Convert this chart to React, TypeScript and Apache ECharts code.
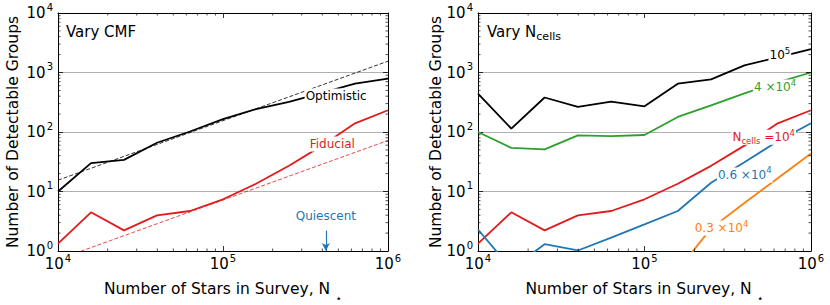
import React, { useEffect, useRef } from 'react';
import * as echarts from 'echarts';

// ---------- data ----------
const nStars = [1e4, 1.585e4, 2.512e4, 3.981e4, 6.31e4, 1e5, 1.585e5, 2.512e5, 3.981e5, 6.31e5, 1e6];
const optimistic = [10, 30, 34, 66, 102, 165, 243, 322, 455, 650, 787];
const fiducial = [1.33, 4.47, 2.22, 3.98, 4.7, 7.4, 13.5, 27, 59, 140, 232];
const fitX = [1e4, 1e6];
const optimisticFit = [15.5, 1550];
const fiducialFit = [0.72, 72];
const quiescentX = 4.2e5;
const quiescentArrowY = [2.2, 1.0];

const cells1e5 = [440, 114, 380, 264, 324, 270, 650, 767, 1320, 1800, 2460];
const cells4e4 = [100, 54, 51, 88, 85, 89, 179, 281, 447, 680, 1000];
const cells1e4 = fiducial;
const cells6e3 = [2.3, 0.5, 1.3, 1.02, 1.68, 2.8, 4.7, 14, 31, 70, 140];
const cells3e3 = [null, null, null, null, null, null, 0.48, 2.4, 6.4, 16.7, 43.6];

// annotation anchor points (data coordinates)
const leftLabels = [
  { text: 'Optimistic', at: [4.85e5, 403], color: '#000000' },
  { text: 'Fiducial', at: [4.6e5, 63], color: '#e31a1c' },
  { text: 'Quiescent', at: [4.2e5, 3.9], color: '#1f77b4' },
];
const rightLabels = [
  { text: '{b|10}{sup|5}', at: [6.5e5, 1960], color: '#000000' },
  { text: '{b|4 ×10}{sup|4}', at: [6.08e5, 570], color: '#2ca02c' },
  { text: '{b|N}{sub|cells}{b| =10}{sup|4}', at: [5.2e5, 82], color: '#e31a1c' },
  { text: '{b|0.6 ×10}{sup|4}', at: [4.0e5, 19], color: '#1f77b4' },
  { text: '{b|0.3 ×10}{sup|4}', at: [2.9e5, 2.43], color: '#ff7f0e' },
];

const minorMult = [2, 3, 4, 5, 6, 7, 8, 9];
const xDecades = [1e4, 1e5];
const yDecades = [1, 10, 100, 1000];

// ---------- styling ----------
const FONT = 'DejaVu Sans';
const C = { black: '#000000', red: '#e31a1c', green: '#2ca02c', blue: '#1f77b4', orange: '#ff7f0e' };

const tickRich = {
  b: { fontFamily: FONT, fontSize: 15, lineHeight: 20, verticalAlign: 'middle', color: '#000' },
  s: { fontFamily: FONT, fontSize: 10, lineHeight: 20, padding: [0, 0, 12, 1], verticalAlign: 'middle', color: '#000' },
};
const powLabel = (v: number) => `{b|10}{s|${Math.round(Math.log10(v))}}`;

const labelRich = (color: string) => ({
  b: { fontFamily: FONT, fontSize: 12, lineHeight: 15, verticalAlign: 'middle', color },
  sup: { fontFamily: FONT, fontSize: 8.5, lineHeight: 15, padding: [0, 0, 9, 0], verticalAlign: 'middle', color },
  sub: { fontFamily: FONT, fontSize: 8.5, lineHeight: 15, padding: [8, 0, 0, 0], verticalAlign: 'middle', color },
});

const xName = '{n|Number of Stars in Survey, N}{st|⋆}';
const xNameStyle = {
  fontFamily: FONT,
  fontSize: 15.5,
  color: '#000',
  rich: {
    n: { fontFamily: FONT, fontSize: 15.5, lineHeight: 18, verticalAlign: 'middle', color: '#000' },
    st: { fontFamily: FONT, fontSize: 11, lineHeight: 18, padding: [18, 0, 0, 5], verticalAlign: 'middle', color: '#000' },
  },
};

function xAxes(gridIndex: number) {
  const common = {
    type: 'log',
    logBase: 10,
    min: 1e4,
    max: 1e6,
    gridIndex,
    axisLine: { show: true, onZero: false, lineStyle: { color: '#000', width: 1 } },
    axisTick: { show: true, inside: true, length: 5, lineStyle: { color: '#000', width: 0.8 } },
    splitLine: { show: false },
  };
  return [
    {
      ...common,
      position: 'bottom',
      axisLabel: { show: true, formatter: powLabel, rich: tickRich, margin: 3, interval: 0, showMinLabel: true, showMaxLabel: true },
      name: xName,
      nameLocation: 'middle',
      nameGap: 29,
      nameMoveOverlap: false,
      nameTextStyle: xNameStyle,
    },
    { ...common, position: 'top', axisLabel: { show: false }, z: 3 },
  ];
}

function yAxes(gridIndex: number, nameGap: number) {
  const common = {
    type: 'log',
    logBase: 10,
    min: 1,
    max: 1e4,
    gridIndex,
    axisLine: { show: true, onZero: false, lineStyle: { color: '#000', width: 1 } },
    axisTick: { show: true, inside: true, length: 5, lineStyle: { color: '#000', width: 0.8 } },
  };
  return [
    {
      ...common,
      position: 'left',
      axisLabel: { show: true, formatter: powLabel, rich: tickRich, margin: 5, interval: 0, showMinLabel: true, showMaxLabel: true },
      splitLine: { show: true, showMinLine: false, showMaxLine: false, lineStyle: { color: '#b0b0b0', width: 1 } },
      name: 'Number of Detectable Groups',
      nameLocation: 'middle',
      nameGap,
      nameMoveOverlap: false,
      nameTextStyle: { fontFamily: FONT, fontSize: 15.5, color: '#000' },
    },
    { ...common, position: 'right', axisLabel: { show: false }, splitLine: { show: false }, z: 3 },
  ];
}

function minorTicks(xi: number, yi: number, dir: 'x' | 'y') {
  const vals: number[] = [];
  (dir === 'x' ? xDecades : yDecades).forEach((d) => minorMult.forEach((m) => vals.push(d * m)));
  return {
    type: 'custom',
    xAxisIndex: xi,
    yAxisIndex: yi,
    silent: true,
    z: 6,
    data: vals.map((v) => (dir === 'x' ? [v, 10] : [1e5, v])),
    renderItem: (params: any, api: any) => {
      const cs = params.coordSys;
      const p = api.coord([api.value(0), api.value(1)]);
      const L = 2.5;
      const style = { stroke: '#000', lineWidth: 0.7 };
      if (dir === 'x') {
        return {
          type: 'group',
          children: [
            { type: 'line', shape: { x1: p[0], y1: cs.y + cs.height, x2: p[0], y2: cs.y + cs.height - L }, style },
            { type: 'line', shape: { x1: p[0], y1: cs.y, x2: p[0], y2: cs.y + L }, style },
          ],
        };
      }
      return {
        type: 'group',
        children: [
          { type: 'line', shape: { x1: cs.x, y1: p[1], x2: cs.x + L, y2: p[1] }, style },
          { type: 'line', shape: { x1: cs.x + cs.width, y1: p[1], x2: cs.x + cs.width - L, y2: p[1] }, style },
        ],
      };
    },
  };
}

const pairs = (xs: number[], ys: (number | null)[]) => xs.map((x, i) => [x, ys[i]]);

function lineSeries(name: string, xi: number, yi: number, ys: (number | null)[], color: string, extra: any = {}) {
  return {
    name,
    type: 'line',
    xAxisIndex: xi,
    yAxisIndex: yi,
    data: pairs(nStars, ys),
    symbol: 'none',
    lineStyle: { color, width: 1.8 },
    itemStyle: { color },
    z: 2,
    ...extra,
  };
}

function labelPoint(l: { text: string; at: number[]; color: string }) {
  return {
    coord: l.at,
    label: {
      show: true,
      position: 'inside',
      formatter: l.text.startsWith('{') ? l.text : `{b|${l.text}}`,
      rich: labelRich(l.color),
      backgroundColor: '#ffffff',
      padding: [0, 1, 0, 1],
    },
  };
}

function labelSeries(xi: number, yi: number, labels: any[]) {
  return {
    type: 'line',
    xAxisIndex: xi,
    yAxisIndex: yi,
    data: [],
    symbol: 'none',
    silent: true,
    markPoint: {
      symbol: 'circle',
      symbolSize: 1,
      silent: true,
      z: 5,
      itemStyle: { color: 'rgba(0,0,0,0)' },
      data: labels.map(labelPoint),
    },
  };
}

export default function App() {
  const ref = useRef<HTMLDivElement>(null);
  useEffect(() => {
    document.body.style.margin = '0';
    const chart = echarts.init(ref.current!, undefined, { renderer: 'svg' });
    const option: any = {
      animation: false,
      backgroundColor: '#ffffff',
      textStyle: { fontFamily: FONT },
      title: [
        {
          text: 'Vary CMF',
          left: 66,
          top: 24,
          padding: 0,
          textStyle: { fontFamily: FONT, fontSize: 15, fontWeight: 'normal', color: '#000', lineHeight: 16 },
        },
        {
          text: '{a|Vary N}{s|cells}',
          left: 487,
          top: 24,
          padding: 0,
          textStyle: {
            fontFamily: FONT,
            fontSize: 15,
            fontWeight: 'normal',
            color: '#000',
            rich: {
              a: { fontFamily: FONT, fontSize: 15, lineHeight: 16, verticalAlign: 'middle', color: '#000' },
              s: { fontFamily: FONT, fontSize: 11, lineHeight: 16, padding: [9, 0, 0, 0], verticalAlign: 'middle', color: '#000' },
            },
          },
        },
      ],
      grid: [
        { left: 58, top: 13, width: 330, height: 238, containLabel: false, outerBoundsMode: 'none' },
        { left: 478, top: 13, width: 333, height: 238, containLabel: false, outerBoundsMode: 'none' },
      ],
      xAxis: [...xAxes(0), ...xAxes(1)],
      yAxis: [...yAxes(0, 37), ...yAxes(1, 34)],
      series: [
        // left panel
        {
          type: 'line',
          xAxisIndex: 0,
          yAxisIndex: 0,
          data: pairs(fitX, optimisticFit),
          symbol: 'none',
          lineStyle: { color: C.black, width: 0.8, type: [4, 2] },
          z: 1,
        },
        {
          type: 'line',
          xAxisIndex: 0,
          yAxisIndex: 0,
          data: pairs(fitX, fiducialFit),
          symbol: 'none',
          lineStyle: { color: C.red, width: 0.8, type: [4, 2] },
          z: 1,
        },
        lineSeries('Optimistic', 0, 0, optimistic, C.black),
        lineSeries('Fiducial', 0, 0, fiducial, C.red),
        {
          name: 'Quiescent',
          type: 'line',
          xAxisIndex: 0,
          yAxisIndex: 0,
          data: quiescentArrowY.map((y) => [quiescentX, y]),
          symbol: 'none',
          lineStyle: { opacity: 0 },
          markLine: {
            silent: true,
            symbol: ['none', 'arrow'],
            symbolSize: [6, 8],
            label: { show: false },
            lineStyle: { color: C.blue, width: 1.2, type: 'solid' },
            data: [[{ coord: [quiescentX, quiescentArrowY[0]] }, { coord: [quiescentX, quiescentArrowY[1]] }]],
          },
        },
        labelSeries(0, 0, leftLabels),
        minorTicks(0, 0, 'x'),
        minorTicks(0, 0, 'y'),
        // right panel
        lineSeries('1e5', 2, 2, cells1e5, C.black),
        lineSeries('4e4', 2, 2, cells4e4, C.green),
        lineSeries('1e4', 2, 2, cells1e4, C.red),
        lineSeries('6e3', 2, 2, cells6e3, C.blue),
        lineSeries('3e3', 2, 2, cells3e3, C.orange),
        labelSeries(2, 2, rightLabels),
        minorTicks(2, 2, 'x'),
        minorTicks(2, 2, 'y'),
      ],
    };
    chart.setOption(option);
    return () => chart.dispose();
  }, []);
  return <div ref={ref} style={{ width: 830, height: 305, position: 'absolute', left: 0, top: 0 }} />;
}
